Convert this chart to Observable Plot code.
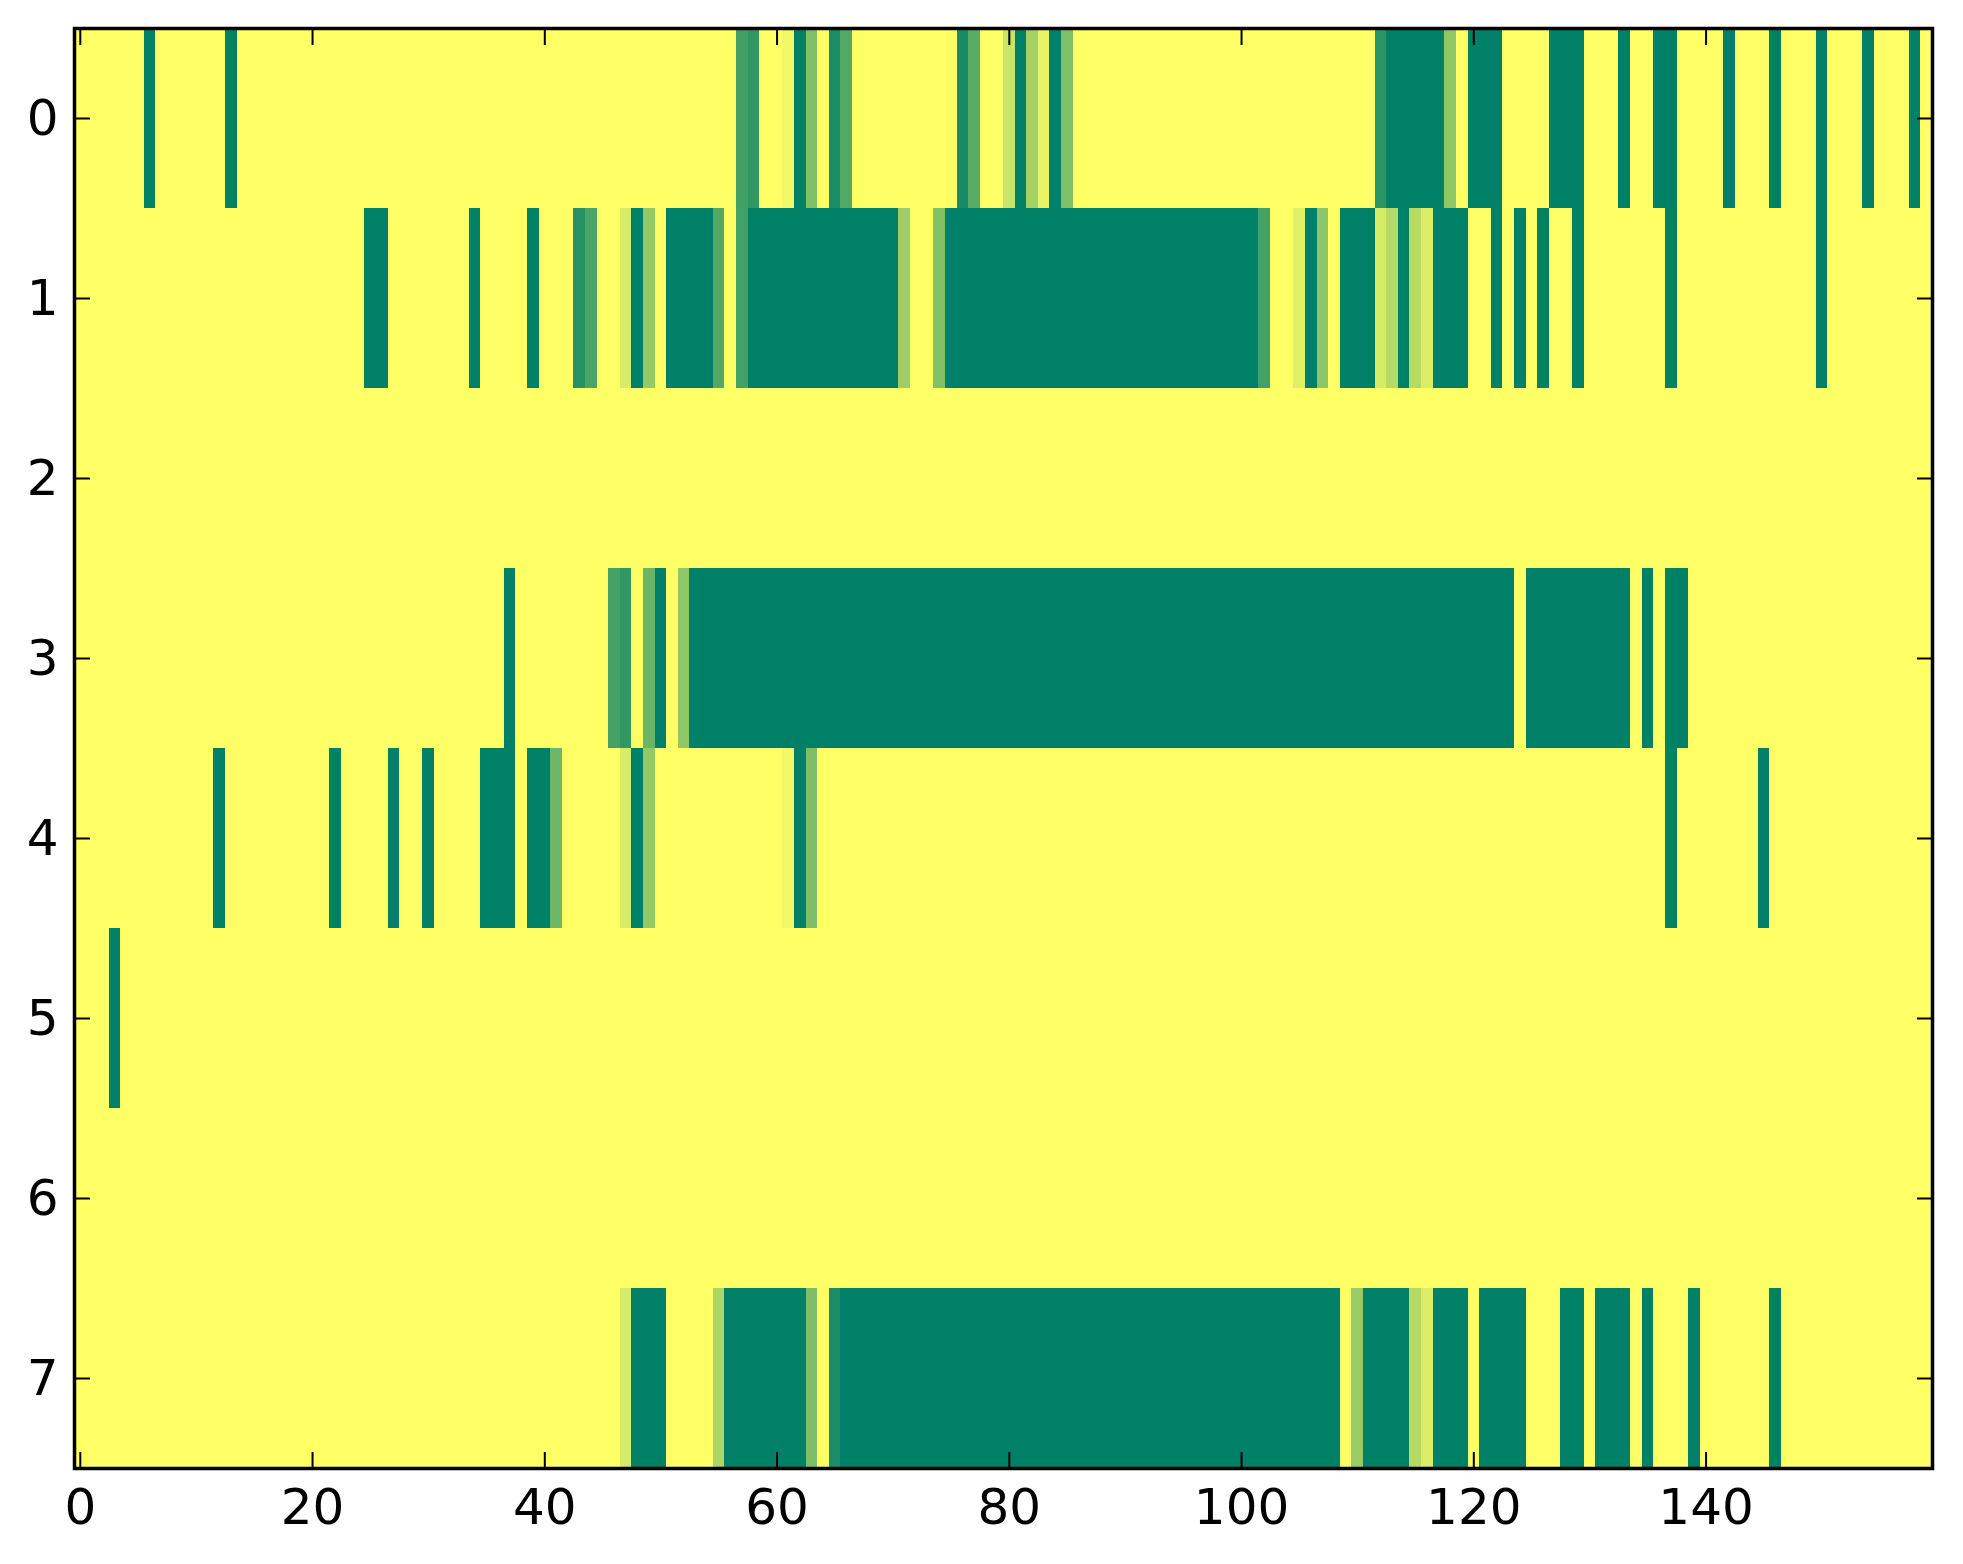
<!DOCTYPE html>
<html>
<head>
<meta charset="utf-8">
<script src="https://cdn.jsdelivr.net/npm/d3@7"></script>
<script src="https://cdn.jsdelivr.net/npm/@observablehq/plot@0.6"></script>
<style>
  html, body { margin: 0; padding: 0; background: white; }
</style>
</head>
<body>
<div id="chart"></div>
<script>
// Number of columns / rows of the image
const nCols = 160;
const rowLabels = [0, 1, 2, 3, 4, 5, 6, 7];
const xTicks = [0, 20, 40, 60, 80, 100, 120, 140];

// Non-yellow runs per row: [firstCol, lastCol, value]  (all other cells = 1)
const row0 = [[6,6,0],[13,13,0],[57,57,0.25],[58,58,0.18],[61,61,0.95],[62,62,0],[63,63,0.5],
  [65,65,0.1],[66,66,0.32],[76,76,0.09],[77,77,0.35],[80,80,0.79],[81,81,0],[82,82,0.64],
  [83,83,0.91],[84,84,0],[85,85,0.5],[112,112,0.16],[113,117,0],[118,118,0.56],[120,122,0],
  [127,129,0],[133,133,0],[136,137,0],[142,142,0],[146,146,0],[150,150,0],[154,154,0],[158,158,0]];
const row1 = [[25,26,0],[34,34,0],[39,39,0],[43,43,0.145],[44,44,0.29],[47,47,0.85],[48,48,0],
  [49,49,0.58],[51,54,0],[55,55,0.32],[57,57,0.26],[58,70,0],[71,71,0.62],[74,74,0.51],
  [75,101,0],[102,102,0.26],[105,105,0.88],[106,106,0],[107,107,0.55],[109,111,0],
  [112,112,0.84],[113,113,0.71],[114,114,0],[115,115,0.71],[116,116,0.86],[117,119,0],
  [122,122,0],[124,124,0],[126,126,0],[129,129,0],[137,137,0],[150,150,0]];
const row2 = [];
const row3 = [[37,37,0],[46,46,0.27],[47,47,0.18],[49,49,0.42],[50,50,0],[52,52,0.56],
  [53,123,0],[125,133,0],[135,135,0],[137,138,0]];
const row4 = [[12,12,0],[22,22,0],[27,27,0],[30,30,0],[35,37,0],[39,40,0],[41,41,0.43],
  [47,47,0.85],[48,48,0],[49,49,0.58],[61,61,0.95],[62,62,0],[63,63,0.49],[137,137,0],[145,145,0]];
const row5 = [[3,3,0]];
const row6 = [];
const row7 = [[47,47,0.84],[48,50,0],[55,55,0.68],[56,62,0],[63,63,0.49],[65,65,0.1],
  [66,108,0],[110,110,0.6],[111,114,0],[115,115,0.7],[116,116,0.86],[117,119,0],[121,124,0],
  [128,129,0],[131,133,0],[135,135,0],[139,139,0],[146,146,0]];

const rows = [row0, row1, row2, row3, row4, row5, row6, row7];

// Build the full grid table
const cells = [];
rows.forEach((runs, r) => {
  for (let c = 0; c < nCols; c++) {
    let v = 1;
    for (const [a, b, val] of runs) if (c >= a && c <= b) v = val;
    cells.push({r, c, v});
  }
});

const W = 1963, H = 1564;
const font = "DejaVu Sans, Bitstream Vera Sans, sans-serif";

const chart = Plot.plot({
  width: W,
  height: H,
  marginLeft: 74,
  marginRight: 31,
  marginTop: 28,
  marginBottom: 96,
  style: {fontFamily: font, fontSize: "50px", background: "white", color: "black"},
  x: {domain: [-0.5, nCols - 0.5], axis: null},
  y: {domain: [-0.5, rowLabels.length - 0.5], reverse: true, axis: null},
  color: {type: "linear", domain: [0, 1], range: ["#008066", "#ffff66"], interpolate: "rgb"},
  marks: [
    Plot.rect(cells, {
      x1: d => d.c - 0.5, x2: d => d.c + 0.5,
      y1: d => d.r - 0.5, y2: d => d.r + 0.5,
      fill: "v", shapeRendering: "crispEdges"
    }),
    // inward tick marks on all four sides
    Plot.axisX({anchor: "bottom", ticks: xTicks, tickSize: -16, tickFormat: () => "", strokeWidth: 2}),
    Plot.axisX({anchor: "top", ticks: xTicks, tickSize: -16, tickFormat: () => "", strokeWidth: 2}),
    Plot.axisY({anchor: "left", ticks: rowLabels, tickSize: -16, tickFormat: () => "", strokeWidth: 2}),
    Plot.axisY({anchor: "right", ticks: rowLabels, tickSize: -16, tickFormat: () => "", strokeWidth: 2}),
    // labels
    Plot.axisX({anchor: "bottom", ticks: xTicks, tickSize: 0, tickPadding: 20, fontSize: 50, fontFamily: font, tickFormat: d => String(d)}),
    Plot.axisY({anchor: "left", ticks: rowLabels, tickSize: 0, tickPadding: 16, fontSize: 50, fontFamily: font, tickFormat: d => String(d)}),
    Plot.frame({stroke: "black", strokeWidth: 3.5})
  ]
});

document.getElementById("chart").appendChild(chart);
</script>
</body>
</html>
